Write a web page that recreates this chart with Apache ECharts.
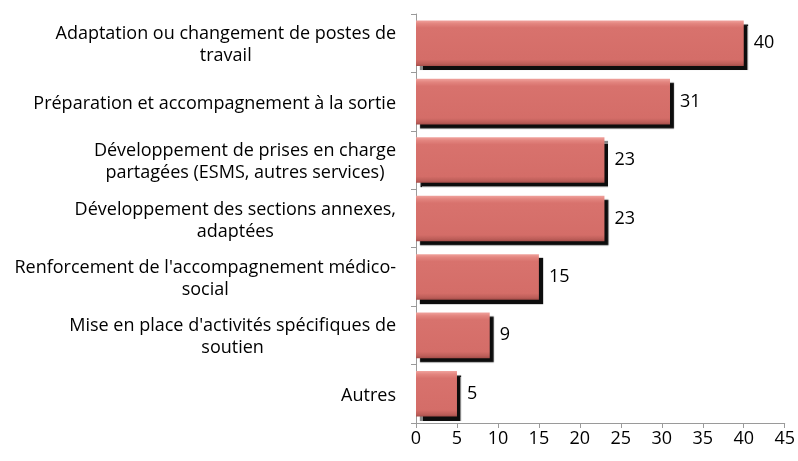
<!DOCTYPE html>
<html>
<head>
<meta charset="utf-8">
<script src="https://cdn.jsdelivr.net/npm/echarts@6/dist/echarts.min.js"></script>
<style>
  html, body { margin: 0; padding: 0; background: #ffffff; }
  #chart { width: 798px; height: 461px; }
</style>
</head>
<body>
<div id="chart"></div>
<script>
// Categories listed top to bottom, each line of a label as its own entry
const categoryLines = [
  ['Adaptation ou changement de postes de', 'travail'],
  ['Préparation et accompagnement à la sortie'],
  ['Développement de prises en charge', 'partagées (ESMS, autres services)'],
  ['Développement des sections annexes,', 'adaptées'],
  ["Renforcement de l'accompagnement médico-", 'social'],
  ["Mise en place d'activités spécifiques de", 'soutien'],
  ['Autres']
];
const values = [40, 31, 23, 23, 15, 9, 5];
const xTicks = [0, 5, 10, 15, 20, 25, 30, 35, 40, 45];

const categories = categoryLines.map(l => l.join('\n'));

const FONT = '"Open Sans", Lato, sans-serif';
const FS = 18;

const chart = echarts.init(document.getElementById('chart'), null, { renderer: 'canvas' });

chart.setOption({
  animation: false,
  backgroundColor: '#ffffff',
  grid: { left: 416, right: 9, top: 14, bottom: 38, containLabel: false },
  xAxis: {
    type: 'value',
    min: xTicks[0],
    max: xTicks[xTicks.length - 1],
    interval: 5,
    axisLine: { show: true, lineStyle: { color: '#9a9a9a', width: 1 } },
    axisTick: { show: true, length: 5, lineStyle: { color: '#9a9a9a' } },
    splitLine: { show: false },
    axisLabel: { color: '#000', fontFamily: FONT, fontSize: FS, margin: 7 }
  },
  yAxis: {
    type: 'category',
    inverse: true,
    data: categories,
    axisLine: { show: true, lineStyle: { color: '#9a9a9a', width: 1 } },
    axisTick: { show: true, length: 5, lineStyle: { color: '#9a9a9a' } },
    axisLabel: {
      color: '#000',
      fontFamily: FONT,
      fontSize: FS,
      lineHeight: 22,
      margin: 20,
      align: 'right',
      padding: [4, 0, 0, 0],
      formatter: function (v) {
        return v.split('\n').map(s => '{c|' + s + '}').join('\n');
      },
      rich: {
        c: { align: 'center', color: '#000', fontFamily: FONT, fontSize: FS, lineHeight: 22 }
      }
    }
  },
  series: [{
    type: 'bar',
    data: values,
    barWidth: '78%',
    itemStyle: {
      color: new echarts.graphic.LinearGradient(0, 0, 0, 1, [
        { offset: 0, color: '#f0a29d' },
        { offset: 0.07, color: '#e3857f' },
        { offset: 0.16, color: '#d8726d' },
        { offset: 0.86, color: '#d46d68' },
        { offset: 0.95, color: '#bd5e59' },
        { offset: 1, color: '#a44d49' }
      ]),
      shadowColor: 'rgba(0,0,0,0.95)',
      shadowBlur: 1,
      shadowOffsetX: 4,
      shadowOffsetY: 4
    },
    label: {
      show: true,
      position: 'right',
      distance: 10,
      color: '#000',
      fontFamily: FONT,
      fontSize: FS
    }
  }]
});
</script>
</body>
</html>
